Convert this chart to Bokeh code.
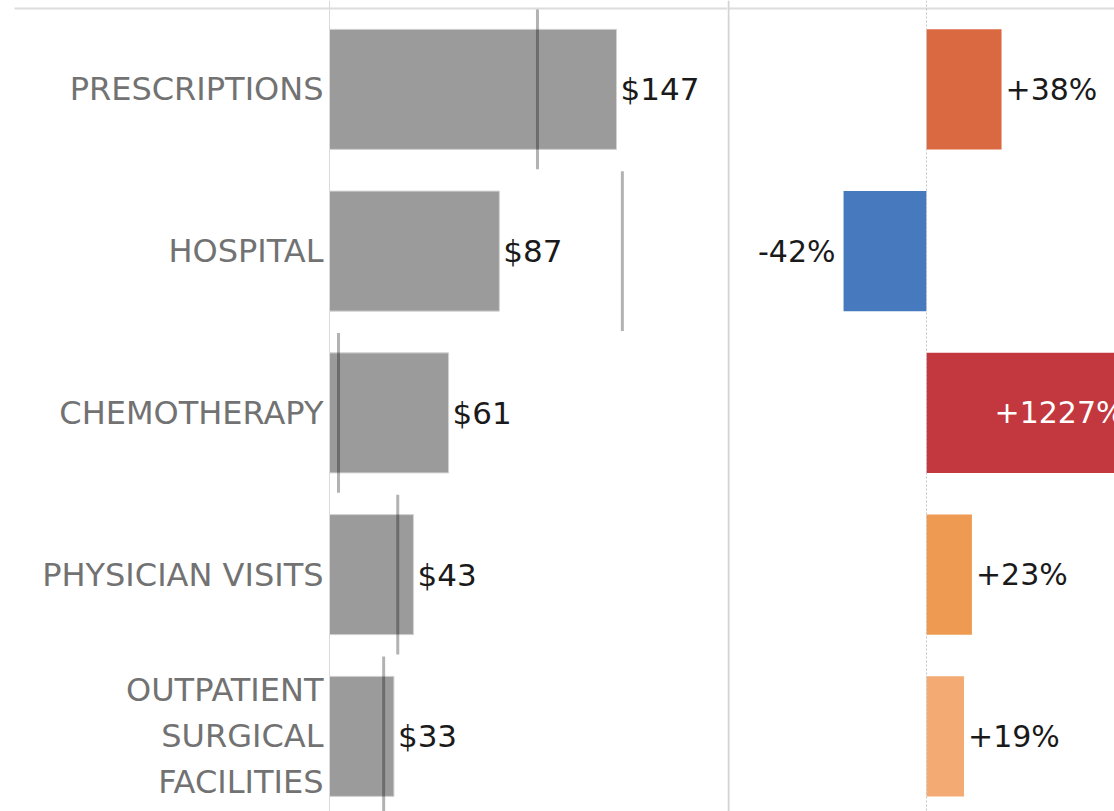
from bokeh.plotting import figure
from bokeh.layouts import row
from bokeh.models import Range1d, Span, ColumnDataSource
from bokeh.core.properties import value
from bokeh.embed import file_html
from bokeh.resources import INLINE

# ---- data ----
categories = ["PRESCRIPTIONS", "HOSPITAL", "CHEMOTHERAPY", "PHYSICIAN VISITS",
              "OUTPATIENT\nSURGICAL\nFACILITIES"]
spend = [147, 87, 61, 43, 33]              # current spending ($)
pct_change = [38, -42, 1227, 23, 19]       # % change vs previous
bar_colors = ["#DA6941", "#4679BD", "#C3383E", "#EF9A52", "#F3AB73"]

# ---- derived ----
idx = list(range(len(categories)))
prev_spend = [v / (1 + c / 100.0) for v, c in zip(spend, pct_change)]
spend_labels = [f"${v}" for v in spend]
pct_labels = [f"{c:+d}%" for c in pct_change]

# ---- layout constants (pixels) ----
H = 811
TOP = 8
BAND = 161.75
S1 = 287 / 147.0          # px per $
S2 = 1.975                # px per %
W1 = 727
W2 = 1114 - W1
X1_START = -329 / S1
X2_START = -199 / S2

y_top = -0.5 - TOP / BAND
y_rng = dict(start=y_top + H / BAND, end=y_top)
FONT = value("DejaVu Sans")

# ---- left panel ----
p1 = figure(width=W1, height=H, output_backend="svg", toolbar_location=None,
            x_range=Range1d(X1_START, X1_START + W1 / S1), y_range=Range1d(**y_rng),
            x_axis_location=None, y_axis_location=None, min_border=0,
            outline_line_color=None)
p1.grid.visible = False

p1.segment(x0=[X1_START + 14 / S1], x1=[X1_START + W1 / S1], y0=[-0.5], y1=[-0.5],
           line_color="#dcdcdc", line_width=2)
p1.add_layout(Span(location=0, dimension="height", line_color="#dadada", line_width=1))

src1 = ColumnDataSource(dict(y=idx, v=spend, prev=prev_spend, lab=spend_labels,
                             cat=categories,
                             lx=[v + 4 / S1 for v in spend],
                             y0=[i - 0.5 + 1 / BAND for i in idx],
                             y1=[i + 0.5 - 1 / BAND for i in idx]))
p1.hbar(y="y", left=0, right="v", height=0.742, source=src1,
        fill_color="#9b9b9b", line_color="#d2d2d2", line_width=1)
p1.segment(x0="prev", x1="prev", y0="y0", y1="y1", source=src1,
           line_color="black", line_alpha=0.3, line_width=3)
p1.text(x="lx", y="y", text="lab", source=src1, text_align="left",
        text_baseline="middle", text_font=FONT, text_font_size="31px",
        text_color="#1a1a1a")
p1.text(x=-6 / S1, y="y", text="cat", source=src1, text_align="right",
        text_baseline="middle", text_font=FONT, text_font_size="32px",
        text_color="#727272", text_line_height=1.21)

# ---- right panel ----
x2_end = X2_START + W2 / S2
p2 = figure(width=W2, height=H, output_backend="svg", toolbar_location=None,
            x_range=Range1d(X2_START, x2_end), y_range=Range1d(**y_rng),
            x_axis_location=None, y_axis_location=None, min_border=0,
            outline_line_color=None)
p2.grid.visible = False

p2.segment(x0=[X2_START], x1=[x2_end], y0=[-0.5], y1=[-0.5],
           line_color="#dcdcdc", line_width=2)
p2.add_layout(Span(location=X2_START + 1 / S2, dimension="height",
                   line_color="#d4d4d4", line_width=2))
p2.add_layout(Span(location=0, dimension="height", line_color="#c4c4c4",
                   line_width=1, line_dash="2 2"))

lx2, al2, tc2 = [], [], []
for c in pct_change:
    if c > x2_end:
        lx2.append(68 / S2); al2.append("left"); tc2.append("white")
    elif c >= 0:
        lx2.append(c + 4 / S2); al2.append("left"); tc2.append("#1a1a1a")
    else:
        lx2.append(c - 8 / S2); al2.append("right"); tc2.append("#1a1a1a")

src2 = ColumnDataSource(dict(y=idx, c=pct_change, col=bar_colors, lab=pct_labels,
                             lx=lx2, al=al2, tc=tc2))
p2.hbar(y="y", left=0, right="c", height=0.742, source=src2,
        fill_color="col", line_color=None)
p2.text(x="lx", y="y", text="lab", source=src2, text_align="al",
        text_baseline="middle", text_font=FONT, text_font_size="30px",
        text_color="tc")

layout = row(p1, p2, spacing=0)
open("out.html", "w").write(file_html(layout, INLINE))
